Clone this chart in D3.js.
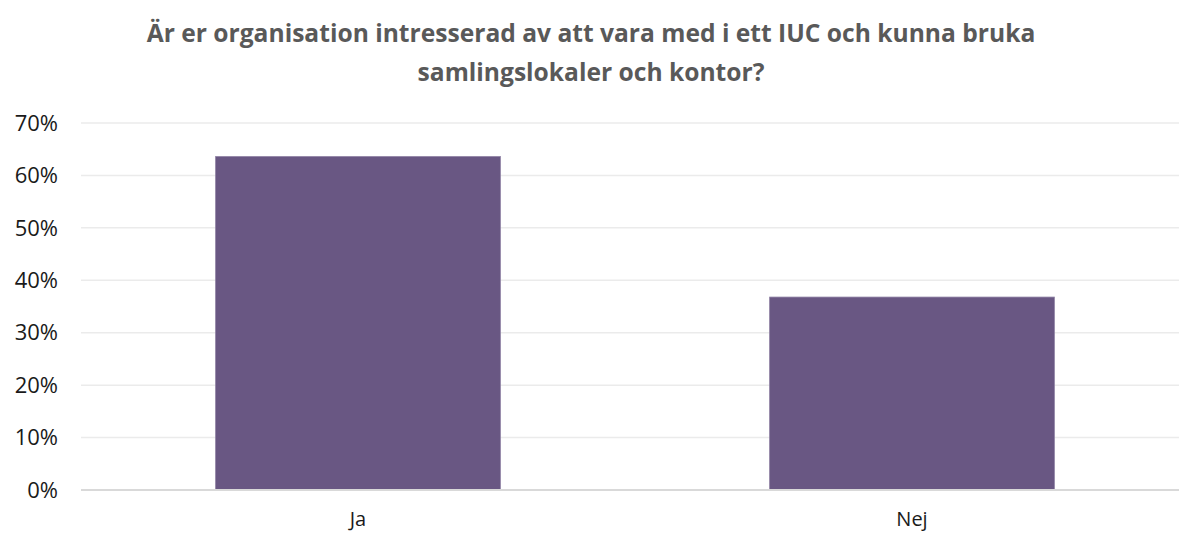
<!DOCTYPE html>
<html>
<head>
<meta charset="utf-8">
<script src="https://cdn.jsdelivr.net/npm/d3@7"></script>
<style>
  body { margin: 0; background: #fff; }
  text { font-family: "Open Sans", Roboto, sans-serif; }
</style>
</head>
<body>
<svg id="chart"></svg>
<script>
// Data
const titleLines = ["Är er organisation intresserad av att vara med i ett IUC och kunna bruka", "samlingslokaler och kontor?"];
const categories = ["Ja", "Nej"];
const values = [0.636, 0.368];
const yTicks = [0, 0.1, 0.2, 0.3, 0.4, 0.5, 0.6, 0.7];

const width = 1179, height = 533;
const margin = { top: 123, right: -10, bottom: 43, left: 81 };

const svg = d3.select("#chart")
    .attr("width", width)
    .attr("height", height);

// Title
svg.append("text")
    .attr("x", 591)
    .attr("y", 42)
    .attr("text-anchor", "middle")
    .selectAll("tspan")
    .data(titleLines)
    .join("tspan")
    .attr("x", 591)
    .attr("dy", (d, i) => i === 0 ? 0 : 39)
    .attr("font-size", 24.6)
    .attr("font-weight", "bold")
    .attr("fill", "#595959")
    .text(d => d);

const x = d3.scaleBand()
    .domain(categories)
    .range([margin.left, width - margin.right])
    .paddingInner(0.486)
    .paddingOuter(0.243);

const y = d3.scaleLinear()
    .domain([0, 0.7])
    .range([height - margin.bottom, margin.top]);

// Gridlines
svg.append("g")
    .selectAll("line")
    .data(yTicks.filter(d => d > 0))
    .join("line")
    .attr("x1", margin.left)
    .attr("x2", width)
    .attr("y1", d => y(d))
    .attr("y2", d => y(d))
    .attr("stroke", "#ebebeb")
    .attr("stroke-width", 1.5);

// Y axis labels
svg.append("g")
    .selectAll("text")
    .data(yTicks)
    .join("text")
    .attr("x", 58)
    .attr("y", d => y(d))
    .attr("dy", "0.35em")
    .attr("text-anchor", "end")
    .attr("font-size", 22)
    .attr("fill", "#1a1a1a")
    .text(d3.format(".0%"));

// Bars
svg.append("g")
    .selectAll("rect")
    .data(values)
    .join("rect")
    .attr("x", (d, i) => x(categories[i]))
    .attr("y", d => y(d))
    .attr("width", x.bandwidth())
    .attr("height", d => y(0) - y(d))
    .attr("fill", "#695783")
    .attr("stroke", "#8e80a3")
    .attr("stroke-width", 0.8);

// Zero line
svg.append("line")
    .attr("x1", margin.left)
    .attr("x2", width)
    .attr("y1", y(0))
    .attr("y2", y(0))
    .attr("stroke", "#d9d9d9")
    .attr("stroke-width", 2);

// Category labels
svg.append("g")
    .selectAll("text")
    .data(categories)
    .join("text")
    .attr("x", d => x(d) + x.bandwidth() / 2)
    .attr("y", 526)
    .attr("text-anchor", "middle")
    .attr("font-size", 20)
    .attr("fill", "#1a1a1a")
    .text(d => d);
</script>
</body>
</html>
